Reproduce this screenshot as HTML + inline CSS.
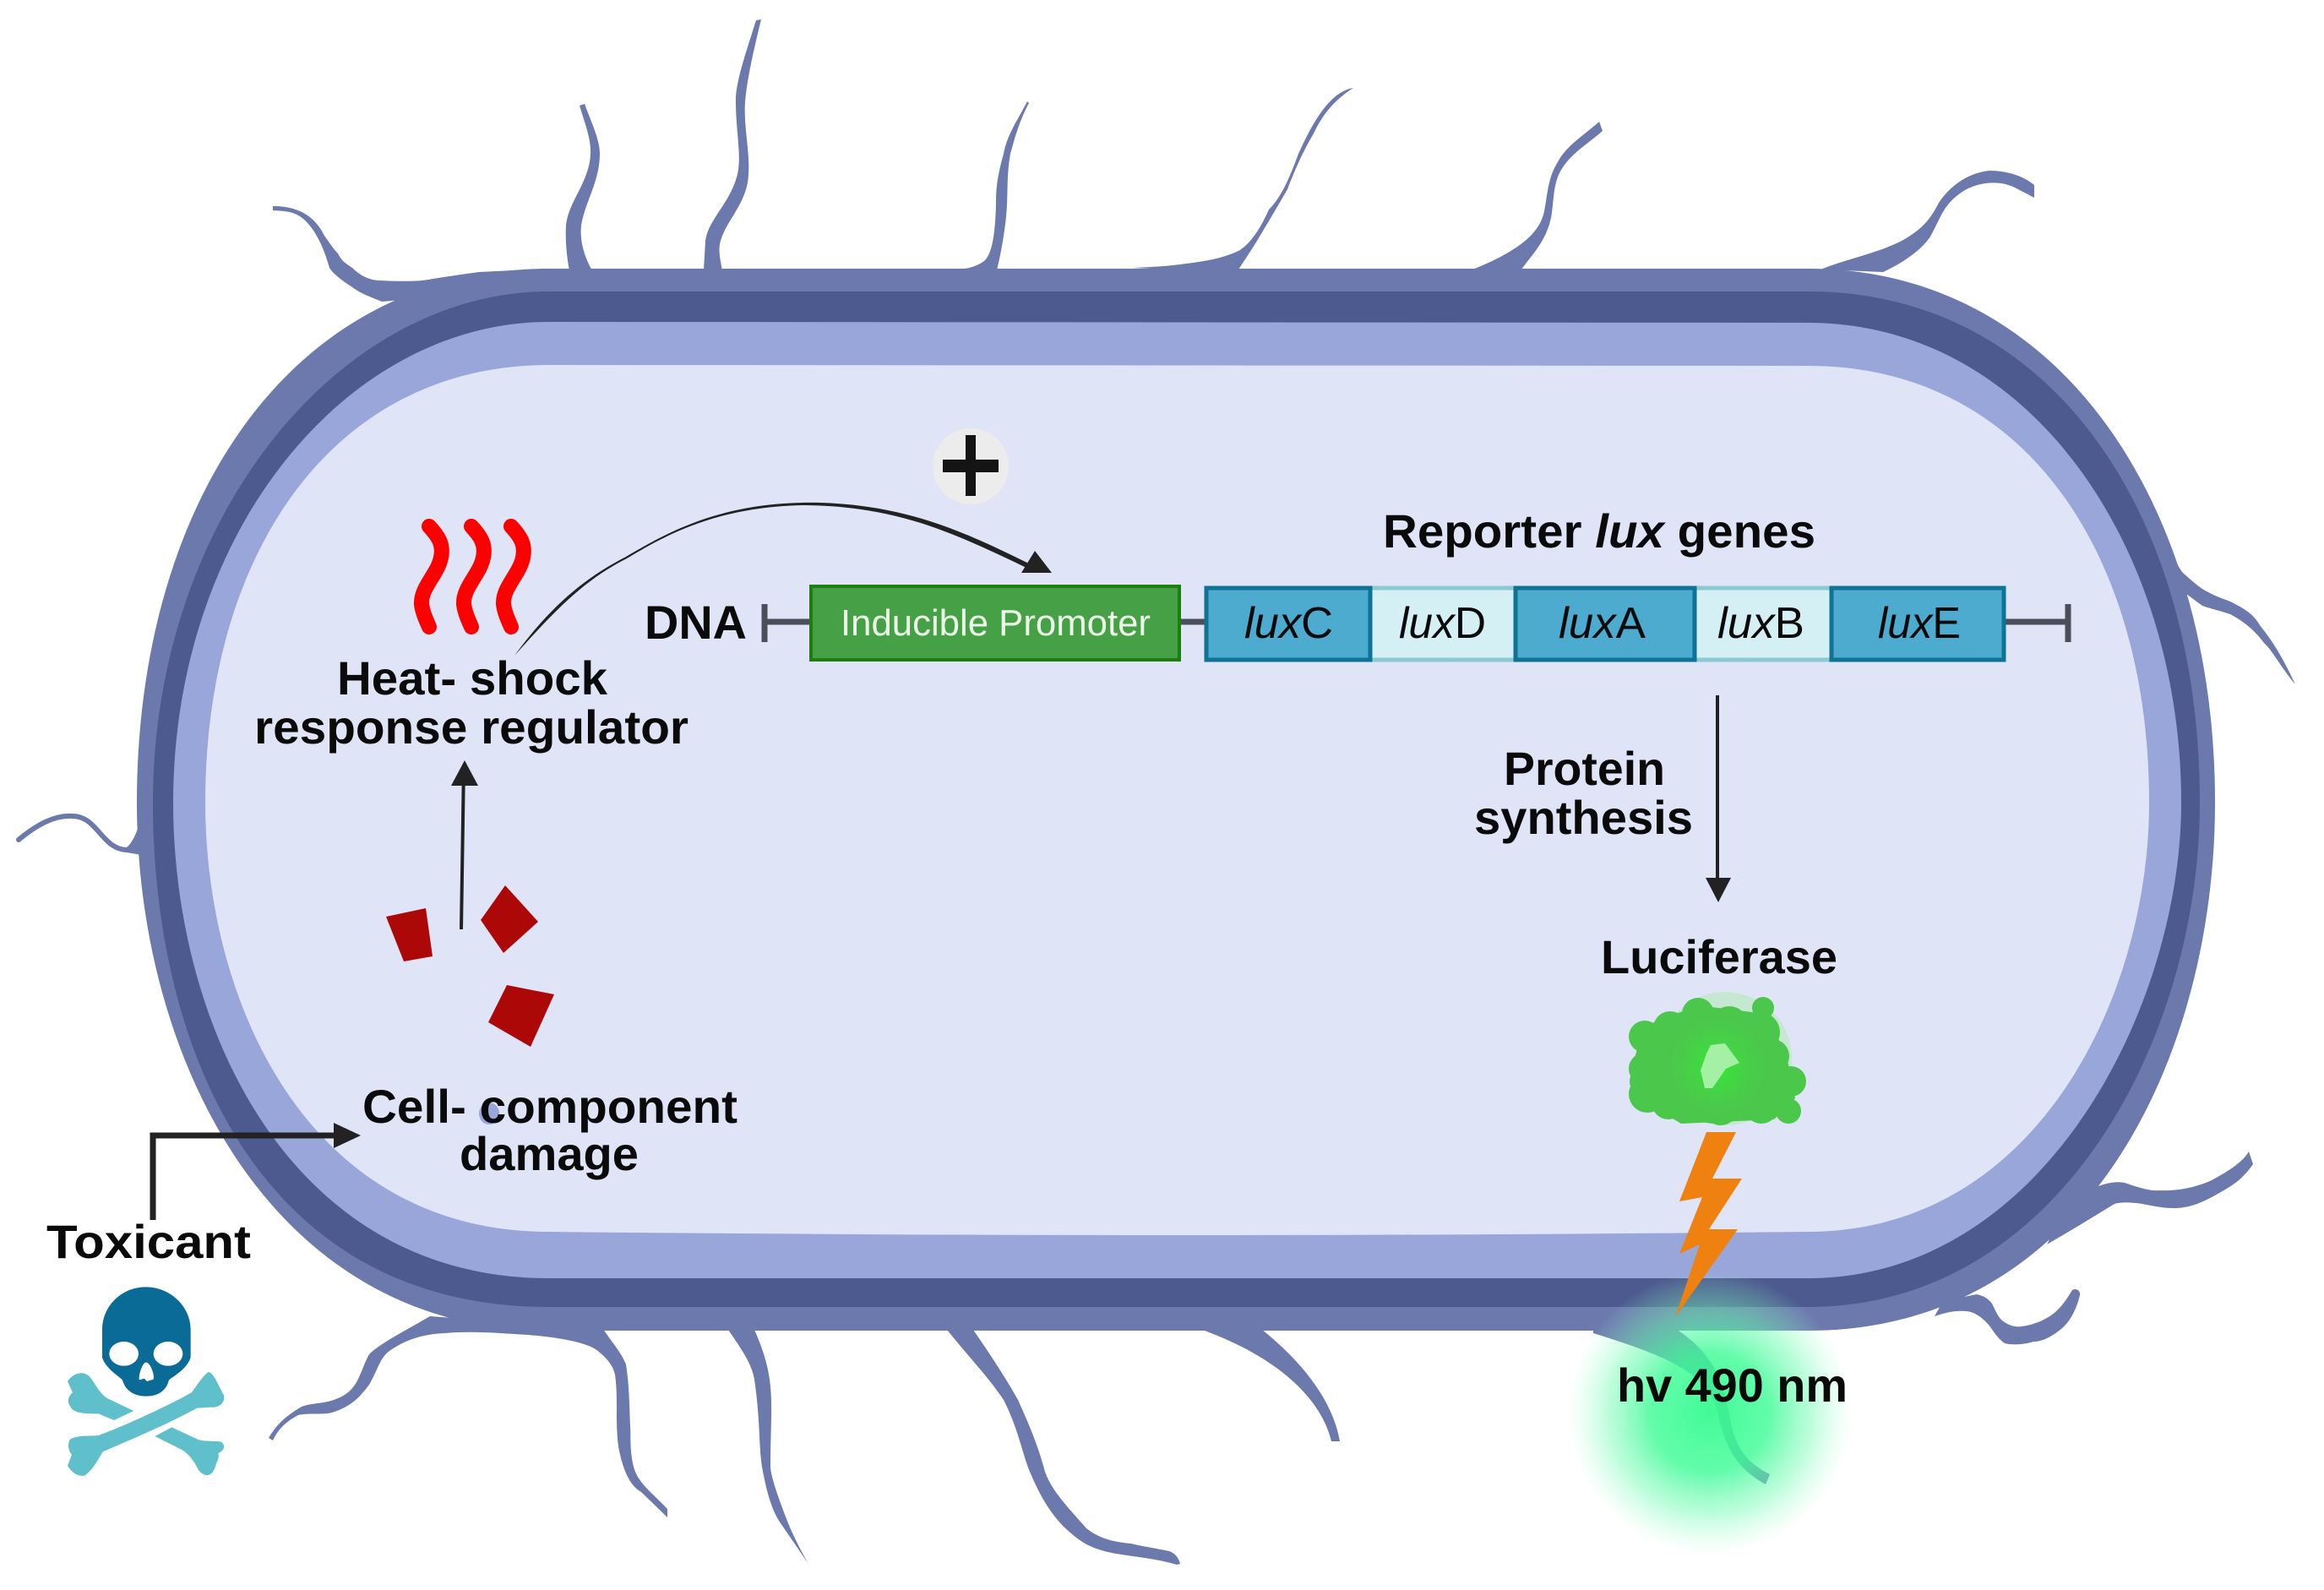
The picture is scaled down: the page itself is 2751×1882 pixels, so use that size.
<!DOCTYPE html>
<html><head><meta charset="utf-8"><style>
html,body{margin:0;padding:0;background:#fff}
svg{display:block}
text{font-family:"Liberation Sans",sans-serif}
.b{font-weight:700;font-size:56px;fill:#0a0a0a}
.g{font-size:52px;fill:#0a0a0a}
.fl{fill:none;stroke:#6b79ad;stroke-width:8;stroke-linecap:round;stroke-linejoin:round}
.ff{fill:#6b79ad}
</style></head><body>
<svg width="2751" height="1882" viewBox="0 0 2751 1882" xmlns="http://www.w3.org/2000/svg">
<defs>
<radialGradient id="glow"><stop offset="0" stop-color="#38fb90" stop-opacity=".95"/><stop offset=".42" stop-color="#40fb98" stop-opacity=".82"/><stop offset=".72" stop-color="#6cfbb0" stop-opacity=".45"/><stop offset="1" stop-color="#a0ffd0" stop-opacity="0"/></radialGradient>
<radialGradient id="core"><stop offset="0" stop-color="#2cf02c" stop-opacity=".95"/><stop offset=".5" stop-color="#3fdc3f" stop-opacity=".5"/><stop offset="1" stop-color="#4cc94c" stop-opacity="0"/></radialGradient>
</defs>
<rect width="2751" height="1882" fill="#fff"/>

<!-- flagella -->
<g class="fl">
<path d="M22,994C45,975 65,965 85,966C115,965 120,1005 150,1006L168,1006" style="stroke-width:6"/>
</g>
<g class="ff">
<path d="M150,1003Q160,995 168,965L168,1012L150,1009Z"/>
<!-- F2 -->
<path d="M686,125C692,145 700,165 699,182C698,215 672,240 670,267C669,285 671,305 674,320L701,320C692,305 686,285 688,267C692,240 710,215 710,182C710,165 700,145 692,123Z"/>
<!-- F3 -->
<path d="M895,24C882,65 870,100 871,121C871,155 878,185 873,206C865,240 838,260 835,285L833,320L855,320C852,305 850,295 853,285C860,260 885,240 886,206C888,180 880,150 882,121C884,95 892,60 901,23Z"/>
<!-- F4 -->
<path d="M1216,120C1203,145 1192,160 1188,182C1180,210 1179,225 1179,242C1178,275 1175,300 1165,309C1155,316 1145,318 1134,319L1180,320C1186,295 1191,265 1192,242C1193,220 1192,205 1196,182C1202,160 1208,140 1218,122Z"/>
<!-- F1 -->
<path d="M323,244C345,244 370,250 384,279C392,290 395,295 400,300C405,310 410,312 417,317C428,328 440,332 450,332C470,333 485,333 500,332C525,328 545,325 567,322L650,318L650,340L452,357C440,352 428,348 417,340C405,332 395,325 390,317C385,300 378,280 365,265C352,250 340,250 323,249Z"/>
<!-- F5 -->
<path d="M1602,104C1578,108 1558,135 1537,182C1525,215 1515,235 1502,248C1490,275 1478,290 1466,297C1445,307 1420,310 1404,312C1385,315 1365,316 1340,317L1464,322C1472,310 1480,298 1488,285C1500,265 1512,245 1524,224C1535,195 1545,175 1555,158C1568,130 1585,115 1602,104Z"/>
<!-- F6 -->
<path d="M1893,144C1875,160 1855,172 1845,190C1832,210 1832,230 1828,250C1822,280 1790,300 1743,319L1800,320C1815,300 1830,285 1836,258C1840,235 1838,215 1850,198C1862,180 1880,170 1897,155Z"/>
<!-- F7 -->
<path d="M2408,219C2395,208 2375,202 2355,202C2325,205 2305,225 2295,240C2285,260 2275,270 2261,279C2235,297 2190,305 2155,319L2229,322C2255,310 2275,295 2285,280C2295,262 2300,245 2315,233C2335,215 2365,212 2385,222L2408,234Z"/>
<!-- F8 -->
<path d="M2558,625C2568,650 2575,665 2583,677C2595,688 2600,692 2607,697C2620,705 2630,708 2640,712C2660,722 2668,728 2675,740C2695,765 2705,785 2717,810C2700,790 2690,770 2680,761C2668,745 2655,735 2640,727C2625,722 2615,720 2607,717C2600,712 2595,708 2588,703L2575,700Z"/>
<!-- F10+F11 -->
<path d="M509,1558C480,1575 450,1590 437,1603C425,1625 425,1645 400,1655C385,1662 370,1660 357,1665C340,1675 328,1685 318,1702L323,1705C330,1690 340,1682 353,1675C365,1672 380,1675 393,1672C415,1665 425,1655 437,1639C448,1620 450,1605 464,1597C485,1583 505,1579 527,1578C560,1575 590,1578 625,1580C660,1583 690,1588 705,1597C720,1608 726,1618 728,1627C732,1655 728,1680 732,1712C738,1745 748,1760 759,1766L790,1796L790,1786C770,1765 755,1755 750,1736C745,1715 747,1700 746,1688C745,1665 745,1640 741,1615C735,1600 725,1590 714,1573Z"/>
<!-- F12 -->
<path d="M862,1574C880,1600 890,1615 893,1633C900,1680 898,1710 902,1736C908,1770 915,1790 924,1803L957,1851C945,1830 938,1815 933,1803C920,1770 912,1745 912,1736C912,1690 915,1660 911,1633C908,1610 900,1590 893,1574Z"/>
<!-- F13 -->
<path d="M1121,1574C1150,1610 1170,1630 1188,1657C1205,1690 1210,1720 1219,1742C1235,1780 1250,1800 1268,1815C1285,1830 1300,1835 1321,1839C1345,1843 1370,1845 1393,1852L1397,1851C1395,1843 1390,1838 1384,1836C1365,1832 1350,1830 1339,1827C1315,1825 1300,1820 1286,1809C1265,1785 1245,1765 1237,1742C1230,1715 1220,1690 1205,1657C1190,1630 1170,1600 1152,1574Z"/>
<!-- F14 -->
<path d="M1426,1573L1493,1573C1545,1615 1578,1660 1586,1706L1576,1706C1565,1660 1520,1610 1426,1575Z"/>
<!-- F15 -->
<path d="M1886,1573L1984,1573C2025,1600 2040,1630 2048,1680C2055,1720 2075,1735 2095,1745L2090,1757C2060,1740 2045,1720 2035,1680C2025,1630 1990,1610 1886,1578Z"/>
<!-- F16 -->
<path d="M2340,1532C2352,1535 2357,1540 2360,1547C2365,1558 2368,1562 2373,1565C2380,1570 2388,1571 2393,1570C2410,1568 2425,1560 2433,1553C2442,1545 2448,1535 2453,1527C2458,1524 2463,1528 2462,1533C2458,1550 2450,1565 2440,1573C2425,1585 2415,1588 2407,1588C2395,1592 2380,1592 2373,1590C2362,1582 2358,1572 2353,1567C2345,1558 2335,1552 2327,1552C2315,1551 2305,1553 2290,1558L2300,1540Z"/>
<!-- F17 -->
<path d="M2440,1440L2484,1404C2495,1400 2505,1398 2515,1400C2530,1405 2545,1410 2555,1409C2580,1410 2600,1405 2618,1397C2640,1385 2655,1375 2662,1363L2667,1378C2655,1395 2645,1402 2627,1412C2605,1425 2590,1430 2573,1430C2555,1430 2540,1425 2529,1424C2515,1423 2510,1423 2503,1425L2457,1453L2423,1473Z"/>
</g>

<!-- cell layers -->
<path fill="#6b79ad" d="M650,318L2140,318C2440,318 2622,600 2622,950C2622,1250 2470,1575 2140,1575L650,1575C320,1575 162,1250 162,950C162,600 340,318 650,318Z"/>
<path fill="#4c5a8f" d="M650,345L2140,345C2430,345 2604,610 2604,950C2604,1225 2440,1547 2140,1547L650,1547C300,1547 181,1230 181,950C181,615 400,345 650,345Z"/>
<path fill="#98a6d9" d="M650,381L2140,382C2405,382 2582,650 2582,950C2582,1190 2420,1513 2140,1513L650,1513C340,1513 205,1210 205,950C205,630 410,381 650,381Z"/>
<path fill="#dfe5f7" d="M650,432L2140,433C2400,433 2544,660 2544,950C2544,1180 2410,1458 2140,1458Q1400,1466 650,1458C360,1458 243,1180 243,950C243,660 390,432 650,432Z"/>

<!-- glow -->
<circle cx="2024" cy="1672" r="168" fill="url(#glow)"/>

<!-- heat waves -->
<g fill="none" stroke="#ff0000" stroke-width="18" stroke-linecap="round">
<path d="M508,623C520,636 525,645 522,660C518,680 498,695 499,715C500,725 505,735 508,742"/>
<path d="M558,623C570,636 575,645 572,660C568,680 548,695 549,715C550,725 555,735 558,742"/>
<path d="M605,623C617,636 622,645 619,660C615,680 595,695 596,715C597,725 602,735 605,742"/>
</g>

<!-- curved arrow -->
<path fill="#222" d="M609,776C650,720 690,685 741,659C790,630 850,597 950,595C1010,594 1060,604 1101,617C1145,631 1185,651 1222,669L1219,674C1180,655 1140,636 1099,622C1060,609 1010,598 950,598C850,600 790,632 742,661C690,687 655,725 609,776Z"/>
<polygon points="1225,652 1209,678 1245,678" fill="#222"/>

<!-- plus -->
<circle cx="1149" cy="552" r="45" fill="#ececec"/>
<rect x="1116" y="544" width="66" height="15" fill="#141414"/>
<rect x="1143" y="515" width="12" height="72" fill="#141414"/>

<!-- DNA -->
<g stroke="#4a4f5a" stroke-width="7" fill="none">
<path d="M905,715V760M905,736H960"/>
<path d="M1397,736H1426"/>
<path d="M2372,736H2448M2448,715V760"/>
</g>
<rect x="960" y="694" width="436" height="87" fill="#46a046" stroke="#1b7f10" stroke-width="4"/>
<text x="995" y="752" font-size="44" fill="#eef8ea" textLength="367" lengthAdjust="spacingAndGlyphs">Inducible Promoter</text>

<rect x="1622" y="696" width="172" height="85" fill="#d5f0f5" stroke="#8ccad2" stroke-width="5"/>
<rect x="2006" y="696" width="162" height="85" fill="#d5f0f5" stroke="#8ccad2" stroke-width="5"/>
<rect x="1428" y="696" width="194" height="85" fill="#4cabcf" stroke="#0f7396" stroke-width="5"/>
<rect x="1794" y="696" width="212" height="85" fill="#4cabcf" stroke="#0f7396" stroke-width="5"/>
<rect x="2168" y="696" width="204" height="85" fill="#4cabcf" stroke="#0f7396" stroke-width="5"/>

<text class="g" x="1473" y="755" textLength="105" lengthAdjust="spacingAndGlyphs"><tspan font-style="italic">lux</tspan>C</text>
<text class="g" x="1656" y="755" textLength="103" lengthAdjust="spacingAndGlyphs"><tspan font-style="italic">lux</tspan>D</text>
<text class="g" x="1845" y="755" textLength="103" lengthAdjust="spacingAndGlyphs"><tspan font-style="italic">lux</tspan>A</text>
<text class="g" x="2033" y="755" textLength="103" lengthAdjust="spacingAndGlyphs"><tspan font-style="italic">lux</tspan>B</text>
<text class="g" x="2223" y="755" textLength="98" lengthAdjust="spacingAndGlyphs"><tspan font-style="italic">lux</tspan>E</text>

<!-- straight arrows -->
<path d="M549,905L546,1100" stroke="#222" stroke-width="4" fill="none"/>
<polygon points="550,900 534,930 566,930" fill="#222"/>
<path d="M2033,823V1045" stroke="#222" stroke-width="4" fill="none"/>
<polygon points="2034,1068 2019,1039 2049,1039" fill="#222"/>
<path d="M181,1444V1344H400" stroke="#222" stroke-width="7" fill="none"/>
<polygon points="427,1344 395,1329 395,1359" fill="#222"/>

<!-- fragments -->
<g fill="#ad0808">
<polygon points="457,1085 504,1075 512,1132 478,1138"/>
<polygon points="598,1048 637,1091 596,1128 569,1089"/>
<polygon points="600,1166 656,1177 628,1239 578,1210"/>
</g>
<ellipse cx="579" cy="1318" rx="12" ry="13" fill="#98a6d9"/>

<!-- protein -->
<circle cx="2042" cy="1253" r="79" fill="#c6e8d2"/>
<g fill="#4bc84b">
<polygon points="1945,1215 2010,1190 2090,1200 2115,1250 2125,1300 2100,1325 1990,1330 1940,1300 1933,1260"/>
<circle cx="1947" cy="1227" r="19"/><circle cx="1977" cy="1217" r="20"/><circle cx="2010" cy="1200" r="19"/>
<circle cx="2047" cy="1213" r="22"/><circle cx="2087" cy="1193" r="13"/><circle cx="2083" cy="1222" r="24"/>
<circle cx="2098" cy="1250" r="20"/><circle cx="2112" cy="1275" r="14"/><circle cx="2120" cy="1280" r="18"/>
<circle cx="2117" cy="1315" r="15"/><circle cx="2085" cy="1310" r="20"/><circle cx="2037" cy="1312" r="20"/>
<circle cx="1997" cy="1308" r="20"/><circle cx="1950" cy="1295" r="22"/><circle cx="1975" cy="1305" r="20"/>
<circle cx="1947" cy="1265" r="19"/><circle cx="1970" cy="1250" r="32"/><circle cx="2032" cy="1262" r="68"/>
<circle cx="2065" cy="1305" r="20"/><circle cx="1945" cy="1280" r="16"/><circle cx="2100" cy="1295" r="22"/>
</g>
<circle cx="2033" cy="1262" r="62" fill="url(#core)"/>
<polygon points="2025,1237 2042,1235 2059,1258 2043,1265 2027,1288 2018,1288 2013,1267 2020,1247" fill="#a4f0a4"/>

<!-- bolt -->
<polygon fill="#ef8110" points="2020,1340 2055,1340 2027,1395 2062,1395 2023,1455 2057,1455 1983,1559 2012,1473 1988,1484 2015,1417 1988,1422"/>

<!-- labels -->
<text class="b" x="399" y="822" textLength="320" lengthAdjust="spacingAndGlyphs">Heat- shock</text>
<text class="b" x="301" y="880" textLength="514" lengthAdjust="spacingAndGlyphs">response regulator</text>
<text class="b" x="763" y="756" textLength="121" lengthAdjust="spacingAndGlyphs">DNA</text>
<text class="b" x="1637" y="648" textLength="512" lengthAdjust="spacingAndGlyphs">Reporter <tspan font-style="italic">lux</tspan> genes</text>
<text class="b" x="1780" y="929" textLength="191" lengthAdjust="spacingAndGlyphs">Protein</text>
<text class="b" x="1745" y="987" textLength="259" lengthAdjust="spacingAndGlyphs">synthesis</text>
<text class="b" x="1895" y="1152" textLength="280" lengthAdjust="spacingAndGlyphs">Luciferase</text>
<text class="b" x="1914" y="1659" textLength="273" lengthAdjust="spacingAndGlyphs">hv 490 nm</text>
<text class="b" x="429" y="1329" textLength="444" lengthAdjust="spacingAndGlyphs">Cell- component</text>
<text class="b" x="544" y="1385" textLength="212" lengthAdjust="spacingAndGlyphs">damage</text>
<text class="b" x="55" y="1489" textLength="242" lengthAdjust="spacingAndGlyphs">Toxicant</text>

<!-- skull -->
<g transform="translate(50,1500) scale(.33333)">
<g fill="#5fbfcb">
<path d="M200,597C300,560 450,490 530,445C550,420 570,385 590,372C610,375 625,420 645,455C650,480 630,500 600,497L550,500C450,555 320,610 215,655C200,680 180,720 150,740C120,745 100,720 90,705L105,665C90,650 90,620 100,610C130,595 170,600 200,597Z"/>
<path d="M325,510L255,543L200,520C160,520 110,520 100,495C85,475 95,455 108,445L90,405C105,380 140,365 165,385C185,405 200,445 230,465Z"/>
<path d="M460,568L400,600L490,645C520,660 540,690 555,720C575,745 600,745 612,715C620,690 630,675 625,660C650,650 650,630 635,620C610,615 570,620 550,610Z"/>
</g>
<path fill="#0a6b96" d="M368,70C280,70 213,140 213,220L213,320C225,360 270,385 285,400C295,440 330,458 368,458C410,458 440,440 450,400C470,385 515,360 527,320L527,220C527,140 455,70 368,70Z"/>
<ellipse cx="290" cy="307" rx="52" ry="43" fill="#fff"/>
<ellipse cx="447" cy="307" rx="52" ry="43" fill="#fff"/>
<path fill="#fff" d="M368,338C355,338 340,390 345,400L362,395L372,405L395,398C400,385 385,338 368,338Z"/>
</g>
</svg>
</body></html>
